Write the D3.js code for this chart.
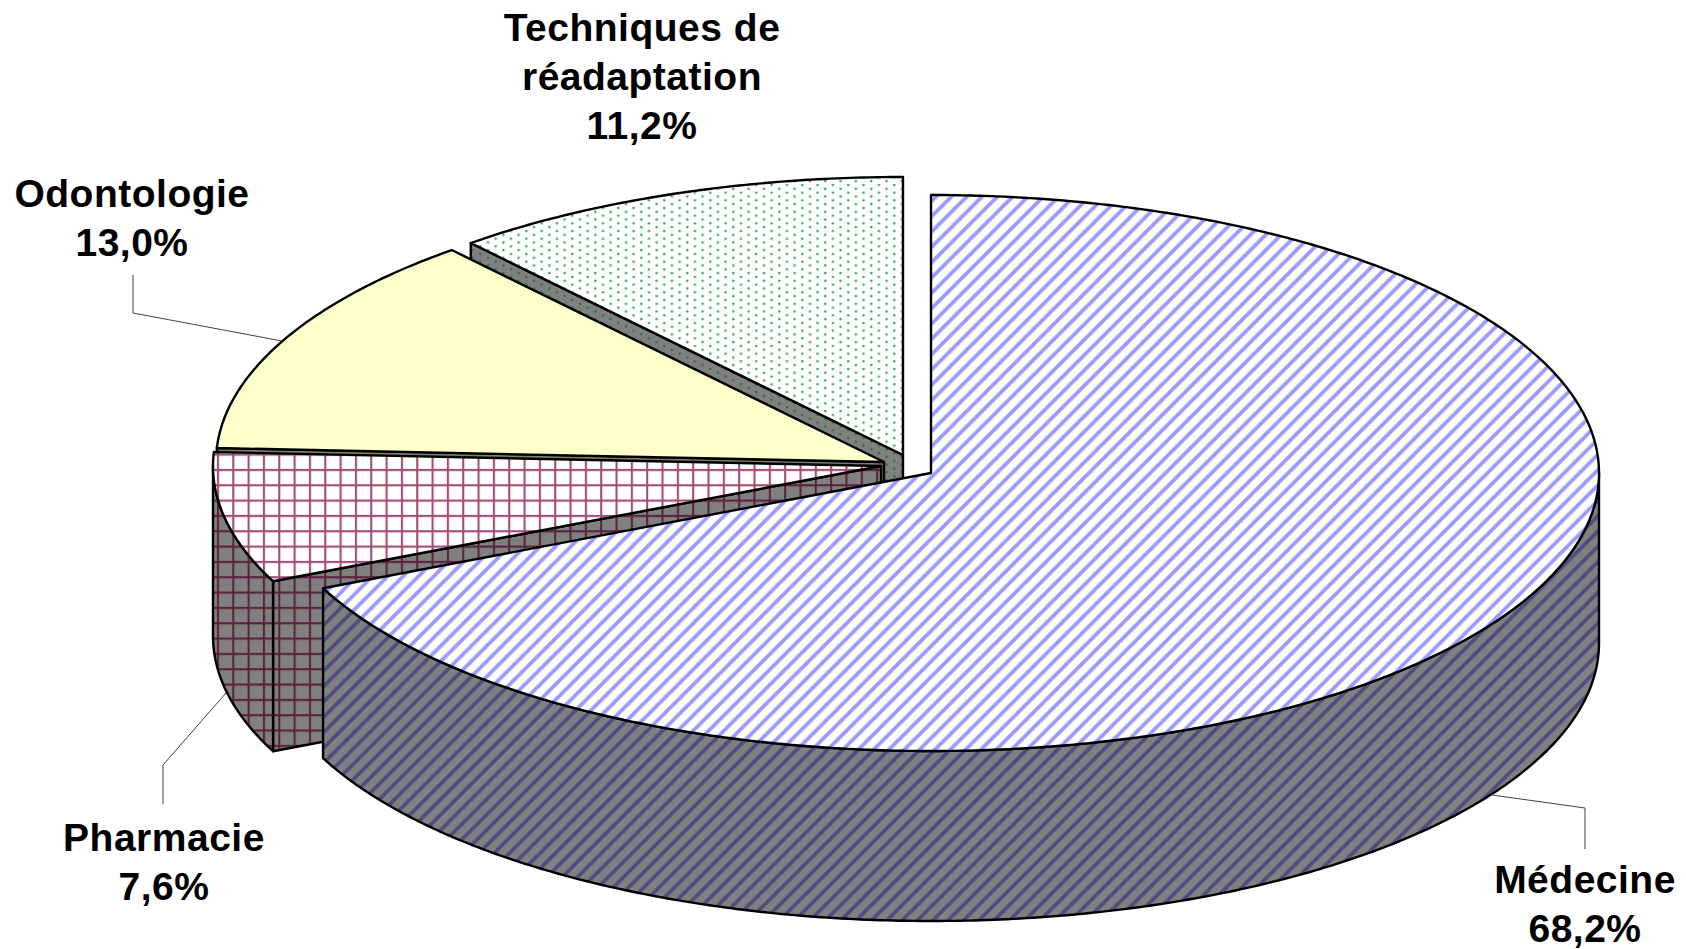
<!DOCTYPE html>
<html><head><meta charset="utf-8">
<script src="https://cdn.jsdelivr.net/npm/d3@7/dist/d3.min.js"></script>
<style>html,body{margin:0;padding:0;background:#fff}svg{display:block}</style>
</head><body><svg id="c" width="1686" height="949"></svg>
<script>
const categories = ["Médecine","Pharmacie","Odontologie","Techniques de réadaptation"];
const values = [68.2,7.6,13.0,11.2];
const valueLabels = ["68,2%","7,6%","13,0%","11,2%"];
const labelLines = [["Médecine"],["Pharmacie"],["Odontologie"],["Techniques de","réadaptation"]];

// layout, separate from the data
const centers = [[931,473],[881,466],[884,462],[903,455]];
const rx = 668, ry = 278, depth = 170;
const labelPos = [[1585,893],[164,851],[132,207],[642,41]];
const leaders = [
  [[1492,795],[1585,808],[1585,849]],
  [[226,693],[163,765],[163,804]],
  [[282,341],[133,313],[133,275]],
  null];
const fills = ["url(#pBlue)","url(#pGrid)","#ffffcc","url(#pDots)"];
const walls = ["url(#wBlue)","url(#wGrid)","#80806a","url(#wDots)"];

const svg = d3.select("#c");
const defs = svg.append("defs");
const T = 15.33;
function stripes(id,bg,col){
  const p = defs.append("pattern").attr("id",id).attr("patternUnits","userSpaceOnUse")
    .attr("width",T).attr("height",T).attr("x",13.6).attr("y",0);
  p.append("rect").attr("width",T).attr("height",T).attr("fill",bg);
  p.append("path").attr("d",`M-3,3L3,-3M0,${T}L${T},0M${T-3},${T+3}L${T+3},${T-3}`)
    .attr("stroke",col).attr("stroke-width",3.8);
}
function grid(id,bg,col){
  const p = defs.append("pattern").attr("id",id).attr("patternUnits","userSpaceOnUse")
    .attr("width",T).attr("height",T).attr("x",2.3).attr("y",9);
  p.append("rect").attr("width",T).attr("height",T).attr("fill",bg);
  p.append("path").attr("d",`M1,0V${T}M0,1H${T}`).attr("stroke",col).attr("stroke-width",2.2);
}
function dots(id,bg,col){
  const p = defs.append("pattern").attr("id",id).attr("patternUnits","userSpaceOnUse")
    .attr("width",T).attr("height",T/2);
  p.append("rect").attr("width",T).attr("height",T/2).attr("fill",bg);
  [[5.1,1],[12.77,4.83]].forEach(d=>
    p.append("circle").attr("cx",d[0]).attr("cy",d[1]).attr("r",1.3).attr("fill",col));
}
stripes("pBlue","#fff","#9999ff");
stripes("wBlue","#808080","#4d4d80");
grid("pGrid","#fff","#a34d7a");
grid("wGrid","#808080","#5c2340");
dots("pDots","#fff","#3fa858");
dots("wDots","#808080","#1f7a36");

const pie = d3.pie().sort(null).value(d=>d).startAngle(0).endAngle(2*Math.PI);
const arcs = pie(values);
const sx = d3.scaleLinear().domain([-1,1]);
const sy = d3.scaleLinear().domain([-1,1]);
const line = d3.line();
const sample = (a,b)=>{const n=Math.max(2,Math.ceil(Math.abs(b-a)/0.01));return d3.range(n+1).map(i=>a+(b-a)*i/n);};

const order = [3,2,1,0];
order.forEach(i=>{
  const [cx,cy] = centers[i];
  sx.range([cx-rx,cx+rx]); sy.range([cy+ry,cy-ry]);
  const pt = (a,dy=0)=>[sx(Math.sin(a)),sy(Math.cos(a))+dy];
  const a0 = arcs[i].startAngle, a1 = arcs[i].endAngle;
  const g = svg.append("g").attr("stroke","#000").attr("stroke-width",2.4).attr("stroke-linejoin","round");
  // cut wall along the leading edge
  const corner = pt(a0);
  if(i>0){
    g.append("path").attr("fill",walls[i]).attr("d",line([[cx,cy],corner,[corner[0],corner[1]+depth],[cx,cy+depth]])+"Z");
  }
  // outer wall (front half only)
  const lo = Math.max(a0,Math.PI/2), hi = Math.min(a1,3*Math.PI/2);
  if(hi>lo){
    const s = sample(lo,hi);
    g.append("path").attr("fill",walls[i])
     .attr("d",line(s.map(a=>pt(a)).concat(s.slice().reverse().map(a=>pt(a,depth))))+"Z");
  }
  // top face
  g.append("path").attr("fill",fills[i])
   .attr("d",line([[cx,cy]].concat(sample(a0,a1).map(a=>pt(a))))+"Z");
});

// leader lines
svg.append("g").selectAll("path").data(leaders.filter(Boolean)).join("path")
  .attr("d",d=>line(d)).attr("fill","none").attr("stroke","#404040").attr("stroke-width",1);

// labels
const lab = svg.append("g").attr("font-family","'Liberation Sans',Arial,sans-serif")
  .attr("font-weight","700").attr("font-size",39).attr("letter-spacing",0.5).attr("fill","#000").attr("text-anchor","middle");
categories.forEach((c,i)=>{
  const lines = labelLines[i].concat([valueLabels[i]]);
  lines.forEach((t,j)=>lab.append("text").attr("x",labelPos[i][0]).attr("y",labelPos[i][1]+j*49).text(t));
});
</script></body></html>
